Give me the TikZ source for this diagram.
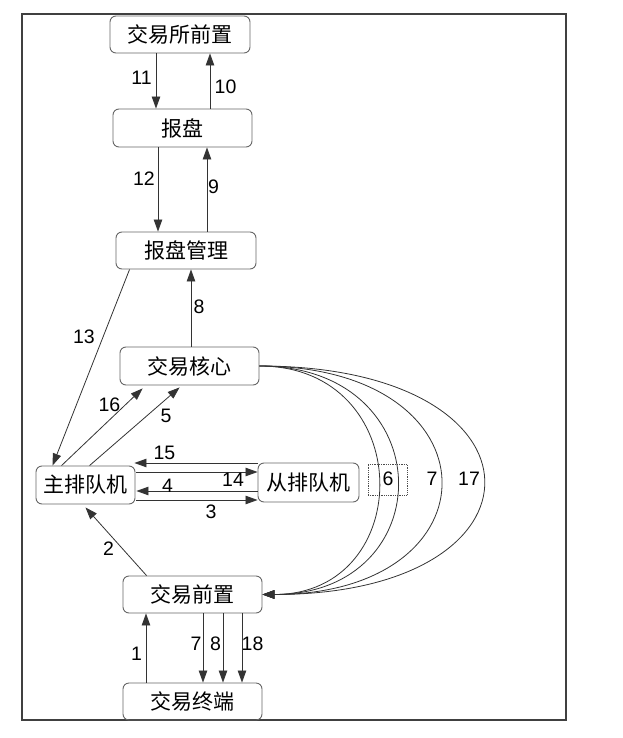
\documentclass[tikz,border=0pt]{standalone}
\usepackage{fontspec}
\setmainfont{Liberation Sans}
\newfontfamily\cjk{Noto Sans CJK SC}
\usetikzlibrary{arrows.meta,calc}
\begin{document}
\begin{tikzpicture}[x=1pt,y=-1pt,
  box/.style={draw=black!60, line width=0.9pt, rounded corners=6pt, font=\cjk\fontsize{21}{23}\selectfont, inner sep=0pt, anchor=center},
  conn/.style={draw=black!80, line width=0.8pt},
  arr/.style={conn, -{Triangle[length=12pt,width=8.5pt]}},
  lab/.style={font=\fontsize{19.5}{21}\selectfont, inner sep=0pt},
]
\useasboundingbox (0,0) rectangle (622,738);
\draw[black!75, line width=1.2pt] (22,14) rectangle (566,720);

\node[box, minimum width=140pt, minimum height=37pt] (jsqz) at (180,34.5) {交易所前置};
\node[box, minimum width=139pt, minimum height=38pt] (bp) at (182.5,128) {报盘};
\node[box, minimum width=140pt, minimum height=37pt] (bpgl) at (186,250.5) {报盘管理};
\node[box, minimum width=139pt, minimum height=38pt] (hx) at (189.5,366) {交易核心};
\node[box, minimum width=99pt, minimum height=38pt] (zpd) at (85.5,485) {主排队机};
\node[box, minimum width=101pt, minimum height=39pt] (cpd) at (308.5,482.5) {从排队机};
\node[box, minimum width=139pt, minimum height=37pt] (qz) at (192.5,594.5) {交易前置};
\node[box, minimum width=139pt, minimum height=37pt] (zd) at (192.5,701.5) {交易终端};
\node[draw=black!70, densely dotted, line width=0.8pt, minimum width=39pt, minimum height=31pt, inner sep=0pt] (b6) at (387.5,479.5) {};

% vertical arrows top
\draw[arr] ([xshift=-24pt]jsqz.south) -- ([xshift=-24pt]jsqz.south |- bp.north);
\draw[arr] ([xshift=30pt]jsqz.south |- bp.north) -- ([xshift=30pt]jsqz.south);
\draw[arr] ([xshift=-24.5pt]bp.south) -- ([xshift=-24.5pt]bp.south |- bpgl.north);
\draw[arr] ([xshift=24.5pt]bp.south |- bpgl.north) -- ([xshift=24.5pt]bp.south);
\draw[arr] ([xshift=1.5pt]hx.north) -- ([xshift=1.5pt]hx.north |- bpgl.south);

% diagonals
\draw[arr] ([xshift=14pt]bpgl.south west) -- ([xshift=17pt]zpd.north west);
\draw[arr] ([xshift=26pt]zpd.north west) -- ([xshift=23pt,yshift=-3pt]hx.south west);
\draw[arr] ([xshift=54pt]zpd.north west) -- ([xshift=60pt,yshift=-2pt]hx.south west);
\draw[arr] ([xshift=24pt]qz.north west) -- ([yshift=-3pt]zpd.south);

% horizontal between queues
\draw[arr] ([yshift=22pt]zpd.east -| cpd.west) -- ([yshift=22pt,xshift=-1pt]zpd.east);
\draw[arr] ([yshift=13pt,xshift=1pt]zpd.east) -- ([yshift=13pt]zpd.east -| cpd.west);
\draw[arr] ([yshift=-6pt]zpd.east -| cpd.west) -- ([yshift=-6pt,xshift=1pt]zpd.east);
\draw[arr] ([yshift=-15pt,xshift=1pt]zpd.east) -- ([yshift=-15pt]zpd.east -| cpd.west);

% curves
\draw[arr] (hx.east) .. controls ($(hx.east)+(158,0)$) and ($(qz.east)+(155,0)$) .. (qz.east);
\draw[arr] (hx.east) .. controls ($(hx.east)+(183,0)$) and ($(qz.east)+(180,0)$) .. (qz.east);
\draw[arr] (hx.east) .. controls ($(hx.east)+(241,0)$) and ($(qz.east)+(238,0)$) .. (qz.east);
\draw[arr] (hx.east) .. controls ($(hx.east)+(298,0)$) and ($(qz.east)+(295,0)$) .. (qz.east);

% bottom
\draw[arr] ([xshift=-46.5pt]zd.north) -- ([xshift=-46.5pt]zd.north |- qz.south);
\draw[arr] ([xshift=10.5pt]qz.south) -- ([xshift=10.5pt]qz.south |- zd.north);
\draw[arr] ([xshift=30.5pt]qz.south) -- ([xshift=30.5pt]qz.south |- zd.north);
\draw[arr] ([xshift=49.5pt]qz.south) -- ([xshift=49.5pt]qz.south |- zd.north);

% labels
\node[lab] (l11) at (141.5,77.5) {11};
\node[lab] (l10) at (225.5,87) {10};
\node[lab] (l12) at (144,178.5) {12};
\node[lab] (l9) at (213.5,187) {9};
\node[lab] (l8a) at (199,306.5) {8};
\node[lab] (l13) at (84,336.5) {13};
\node[lab] (l16) at (109.5,405) {16};
\node[lab] (l5) at (166,415.5) {5};
\node[lab] (l15) at (164.5,453) {15};
\node[lab] (l14) at (233,480) {14};
\node[lab] (l4) at (167.5,485.5) {4};
\node[lab] (l3) at (211,511.5) {3};
\node[lab] (l6) at (388,479) {6};
\node[lab] (l7a) at (432,479) {7};
\node[lab] (l17) at (469,479) {17};
\node[lab] (l2) at (108.5,549) {2};
\node[lab] (l1) at (136.5,654) {1};
\node[lab] (l7b) at (196,644) {7};
\node[lab] (l8b) at (215.5,644) {8};
\node[lab] (l18) at (252.5,644) {18};
\end{tikzpicture}
\end{document}
